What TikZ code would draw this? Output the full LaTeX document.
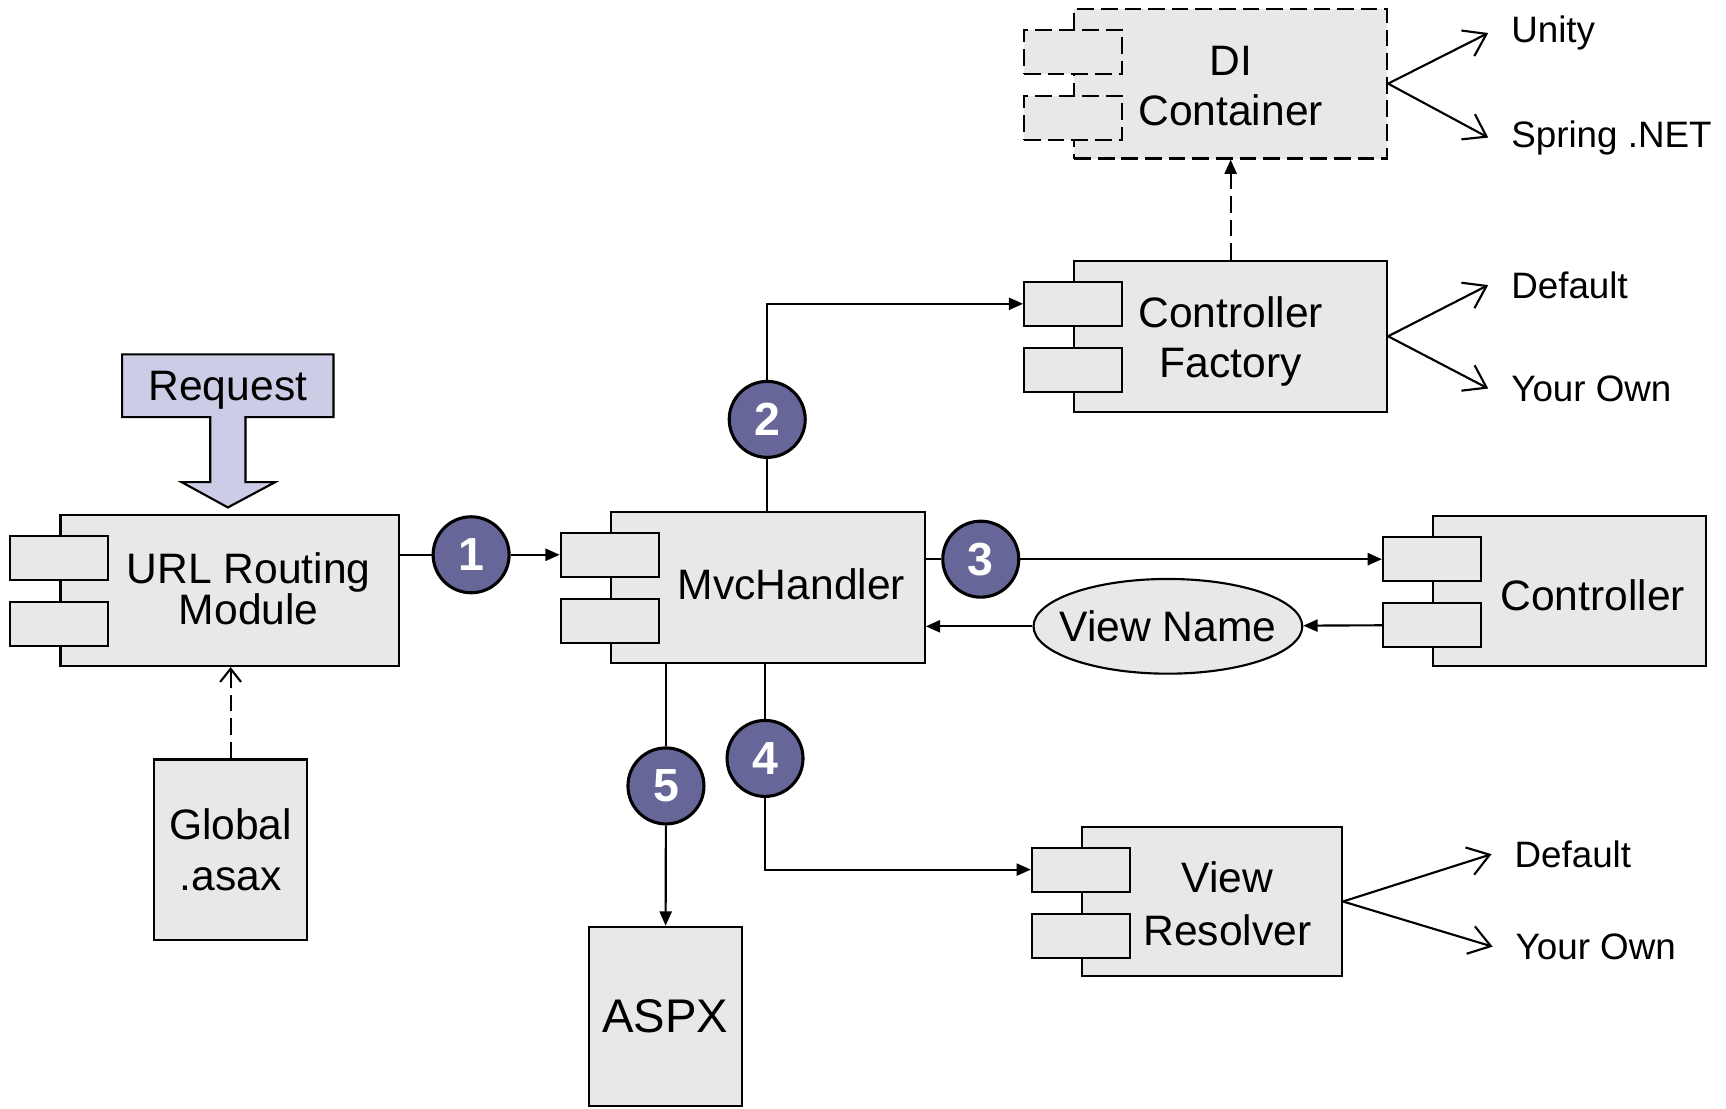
\documentclass[tikz,border=0pt]{standalone}
\usepackage{fontspec}
\setmainfont{Liberation Sans}
\usetikzlibrary{arrows.meta,shapes.geometric}
\definecolor{boxgray}{RGB}{232,232,232}
\definecolor{numblue}{RGB}{102,102,153}
\definecolor{reqblue}{RGB}{204,204,230}

\begin{document}
\begin{tikzpicture}[x=0.01cm,y=-0.01cm,line width=0.55pt,font=\fontsize{11}{13}\selectfont,
  comp/.style={draw,fill=boxgray,inner sep=0},
  tab/.style={draw,fill=boxgray,inner sep=0,minimum width=0.89cm,minimum height=0.40cm},
  dashbox/.style={dash pattern=on 4.3pt off 1.8pt},
  num/.style={circle,draw,fill=numblue,text=white,font=\bfseries\fontsize{12}{12}\selectfont,
    minimum size=0.69cm,inner sep=0,line width=0.8pt},
  lbl/.style={anchor=west,inner xsep=0.2cm,font=\fontsize{9.5}{11}\selectfont},
  arr/.style={-{Triangle[length=1.3mm,width=1.1mm]}},
  barb/.style={-{Straight Barb[length=1.9mm,width=2.6mm]}}]
\useasboundingbox (0,0) rectangle (1568,1007);

\draw[fill=reqblue] (111,322) -- (303,322) -- (303,379) -- (223,379) -- (223,438) -- (250,438)
  -- (207,461) -- (165,438) -- (191,438) -- (191,379) -- (111,379) -- cycle;
\node (request) at (207,355) {Request};

\node[comp,minimum width=3.07cm,minimum height=1.37cm] (url) at (208.5,536.5) {};
\node[comp,minimum width=2.85cm,minimum height=1.37cm] (mvc) at (697.5,533.5) {};
\node[comp,minimum width=2.84cm,minimum height=1.37cm] (cf) at (1118,305.5) {};
\node[comp,dashbox,minimum width=2.84cm,minimum height=1.36cm] (di) at (1118,76) {};
\node[comp,minimum width=2.48cm,minimum height=1.36cm] (ctrl) at (1426,537) {};
\node[comp,minimum width=2.36cm,minimum height=1.36cm] (vr) at (1101,819) {};
\node[comp,minimum width=1.39cm,minimum height=1.63cm,font=\fontsize{12.2}{14}\selectfont] (aspx) at (604.5,923.5) {ASPX};
\node[comp,minimum width=1.39cm,minimum height=1.64cm,align=center,font=\fontsize{11}{13.3}\selectfont] (glob) at (209.5,772) {Global\\.asax};

\foreach \nm in {url,mvc,cf,ctrl,vr} {
  \node[tab] (\nm-t1) at ([yshift=-0.4cm]\nm.north west) {};
  \node[tab] (\nm-t2) at ([yshift=-1cm]\nm.north west) {};
}
\foreach \k/\s in {1/0.4cm,2/1cm} \node[tab,dashbox] (di-t\k) at ([yshift=-\s]di.north west) {};

\node[align=center,font=\fontsize{11}{10.5}\selectfont] (url-txt) at (226,535) {URL Routing\\Module};
\node (mvc-txt) at (719,531) {MvcHandler};
\node[align=center] (cf-txt) at (1118,310) {Controller\\Factory};
\node[align=center,font=\fontsize{11}{12.8}\selectfont] (di-txt) at (1118,78) {DI\\Container};
\node (ctrl-txt) at (1447,541) {Controller};
\node[align=center,font=\fontsize{11}{13.6}\selectfont] (vr-txt) at (1115,821) {View\\Resolver};

\node[ellipse,draw,fill=boxgray,minimum width=2.44cm,minimum height=0.86cm,inner xsep=-0.15cm,inner ysep=0] (vname) at (1061,569) {View Name};

\node[num] (n1) at (428,504) {1};
\node[num] (n2) at (697,381) {2};
\node[num] (n3) at (891,508) {3};
\node[num] (n4) at (695,689) {4};
\node[num] (n5) at (605,714) {5};

\node[lbl] (unity) at (1352,30) {Unity};
\node[lbl] (spring) at (1352,125) {Spring .NET};
\node[lbl] (cf-def) at (1352,259) {Default};
\node[lbl] (cf-own) at (1352,353) {Your Own};
\node[lbl] (vr-def) at (1355,776) {Default};
\node[lbl] (vr-own) at (1356,860) {Your Own};

\draw (url.east |- n1) -- (n1);
\draw[arr] (n1) -- (n1 -| mvc-t1.west);
\draw (mvc.north -| n2) -- (n2);
\draw[arr] (n2) |- (cf-t1.west);
\draw (mvc.east |- n3) -- (n3);
\draw[arr] (n3) -- (n3 -| ctrl-t1.west);
\draw[arr] (ctrl-t2.west) -- (vname);
\draw[arr] (vname) -- (vname -| mvc.east);
\draw (mvc.south -| n4) -- (n4);
\draw[arr] (n4) |- (vr-t1.west);
\draw (mvc.south -| n5) -- (n5);
\draw[arr] (n5) -- (aspx);
\draw[dashbox,arr] (cf) -- (di);
\draw[dashbox,-{Straight Barb[length=1.2mm,width=1.9mm]}] (glob) -- (glob |- url.south);
\foreach \a/\t in {di/unity,di/spring,cf/cf-def,cf/cf-own,vr/vr-def,vr/vr-own}
  \draw[barb] (\a.east) -- (\t.west);
\end{tikzpicture}
\end{document}
